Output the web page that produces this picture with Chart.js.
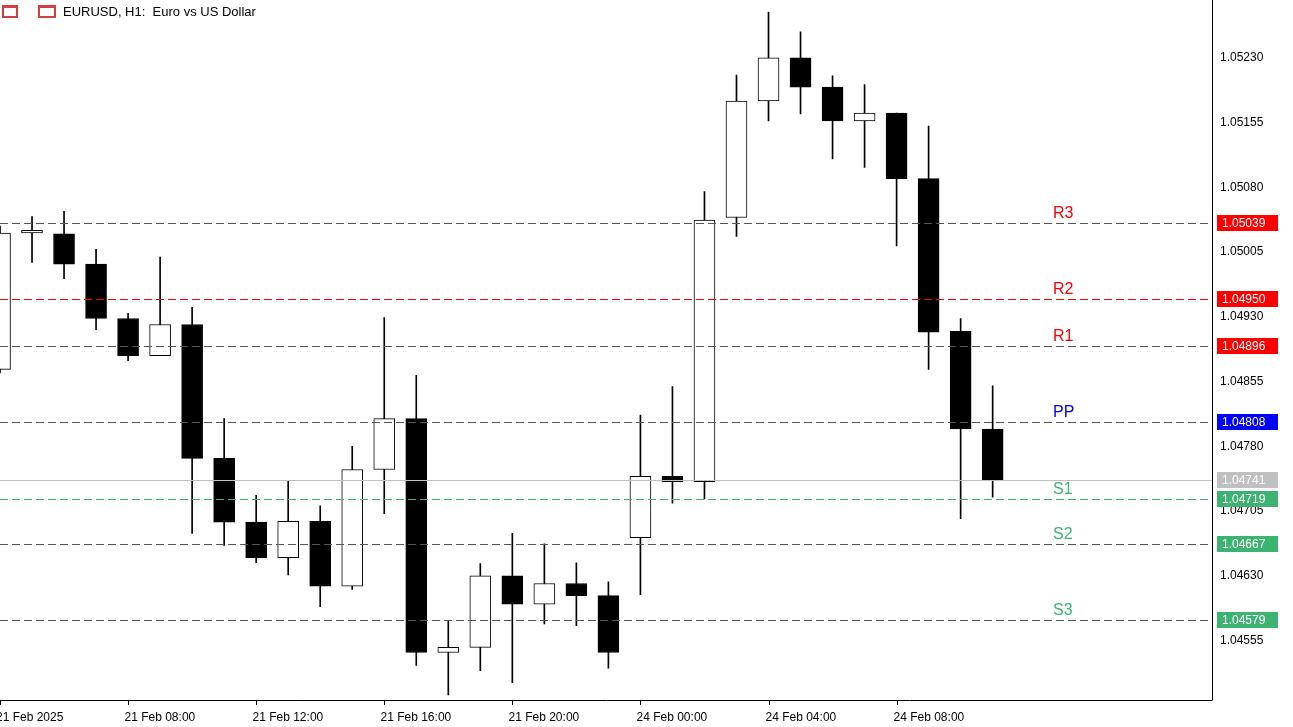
<!DOCTYPE html>
<html><head><meta charset="utf-8">
<script src="https://cdn.jsdelivr.net/npm/chart.js@4"></script>
<style>html,body{margin:0;padding:0;background:#fff}#w{width:1293px;height:727px}</style>
</head><body><div id="w"><canvas id="c"></canvas></div>
<script>
const opens  = [1.04869,1.05027,1.05026,1.04991,1.04928,1.04885,1.04921,1.04766,1.04692,1.04651,1.04693,1.04618,1.04753,1.04812,1.04541,1.04547,1.04630,1.04597,1.04621,1.04607,1.04674,1.04745,1.04739,1.05045,1.05180,1.05230,1.05196,1.05157,1.05166,1.05090,1.04913,1.04800];
const highs  = [1.05035,1.05046,1.05052,1.05008,1.04934,1.04999,1.04941,1.04812,1.04723,1.04740,1.04711,1.04780,1.04929,1.04862,1.04578,1.04644,1.04679,1.04667,1.04645,1.04623,1.04816,1.04849,1.05075,1.05210,1.05283,1.05260,1.05209,1.05199,1.05166,1.05151,1.04928,1.04850];
const lows   = [1.04865,1.04993,1.04974,1.04915,1.04879,1.04885,1.04679,1.04665,1.04645,1.04631,1.04594,1.04614,1.04702,1.04526,1.04492,1.04520,1.04506,1.04574,1.04572,1.04523,1.04608,1.04714,1.04719,1.05023,1.05157,1.05165,1.05113,1.05103,1.05012,1.04869,1.04696,1.04721];
const closes = [1.05027,1.05030,1.04991,1.04928,1.04885,1.04921,1.04766,1.04692,1.04651,1.04693,1.04618,1.04753,1.04812,1.04541,1.04547,1.04630,1.04597,1.04621,1.04607,1.04541,1.04745,1.04739,1.05042,1.05180,1.05230,1.05196,1.05157,1.05166,1.05090,1.04912,1.04800,1.04741];
const timeLabels = ["21 Feb 2025","21 Feb 08:00","21 Feb 12:00","21 Feb 16:00","21 Feb 20:00","24 Feb 00:00","24 Feb 04:00","24 Feb 08:00"];
const priceTicks = [1.04555,1.04630,1.04705,1.04780,1.04855,1.04930,1.05005,1.05080,1.05155,1.05230];
const levelNames  = ["R3","R2","R1","PP","S1","S2","S3"];
const levelValues = [1.05039,1.04950,1.04896,1.04808,1.04719,1.04667,1.04579];
const levelColors = ["#ff0000","#ff0000","#ff0000","#0000ff","#3cb371","#3cb371","#3cb371"];
const lineColors  = ["#555","#ff0000","#555","#555","#3cb371","#555","#555"];
const lastPrice = 1.04741;

const idx = opens.map((_,i)=>i);
const wick = idx.map(i=>({x:i,y:[lows[i],highs[i]]}));
const body = idx.map(i=>{let a=opens[i],b=closes[i];if(Math.abs(a-b)<0.00002){b=a+0.00002;}return {x:i,y:[a,b]};});
const bodyColors = idx.map(i=>closes[i]>=opens[i]?'#fff':'#000');

const overlay = {
  id:'overlay',
  afterDatasetsDraw(ch){
    const c=ch.ctx, y=ch.scales.y, x=ch.scales.x, ca=ch.chartArea;
    c.save();
    let yp=Math.round(y.getPixelForValue(lastPrice))+0.5;
    c.strokeStyle='#c0c0c0';c.lineWidth=1;c.setLineDash([]);
    c.beginPath();c.moveTo(0,yp);c.lineTo(ca.right,yp);c.stroke();
    levelValues.forEach((v,i)=>{
      const py=Math.round(y.getPixelForValue(v))+0.5;
      c.strokeStyle=lineColors[i];c.setLineDash([8,4]);
      c.beginPath();c.moveTo(0,py);c.lineTo(ca.right,py);c.stroke();
      c.setLineDash([]);
      c.fillStyle=levelColors[i];c.font='16px "Liberation Sans", Arial';c.textBaseline='bottom';c.textAlign='left';
      c.fillText(levelNames[i],1053,py-2);
    });
    const boxes=[...levelValues.map((v,i)=>[v,levelColors[i]]),[lastPrice,'#c0c0c0']];
    c.font='12px "Liberation Sans", Arial';c.textBaseline='middle';
    boxes.forEach(([v,col])=>{
      const py=Math.round(y.getPixelForValue(v));
      c.fillStyle=col;c.fillRect(ca.right+5,py-8,61,16);
      c.fillStyle='#fff';c.fillText(v.toFixed(5),ca.right+10,py+1);
    });
    c.strokeStyle='#000';c.lineWidth=1;
    c.beginPath();c.moveTo(ca.right+0.5,0);c.lineTo(ca.right+0.5,ca.bottom+0.5);c.lineTo(0,ca.bottom+0.5);c.stroke();
    c.fillStyle='#000';c.textBaseline='top';c.textAlign='left';
    timeLabels.forEach((t,k)=>{
      const px=Math.round(x.getPixelForValue(k*4))+0.5;
      c.beginPath();c.moveTo(px,ca.bottom);c.lineTo(px,ca.bottom+5);c.stroke();
      c.fillText(t,k===0?-4:px-4,ca.bottom+12);
    });
    c.fillStyle='#d04040';c.fillRect(2,5,16,13);c.fillRect(38,5,18,13);
    c.fillStyle='#fff';c.fillRect(4,8,12,8);c.fillRect(40,8,14,8);
    c.fillStyle='#000';c.font='13px "Liberation Sans", Arial';c.textBaseline='middle';
    c.fillText('EURUSD, H1:  Euro vs US Dollar',63,12);
    c.restore();
  }
};

new Chart(document.getElementById('c'),{
  type:'bar',
  data:{datasets:[
    {data:wick,backgroundColor:'#000',barThickness:1,grouped:false,order:2},
    {data:body,backgroundColor:bodyColors,borderColor:'#000',borderWidth:1,borderSkipped:false,barThickness:21,grouped:false,order:1}
  ]},
  options:{
    responsive:true,maintainAspectRatio:false,animation:false,
    layout:{padding:{left:0,right:0,top:0,bottom:27}},
    plugins:{legend:{display:false},tooltip:{enabled:false}},
    scales:{
      x:{type:'linear',min:0,max:37.85,display:false,offset:false},
      y:{position:'right',min:1.04486,max:1.05284,
        afterBuildTicks(s){s.ticks=priceTicks.map(v=>({value:v}));},
        afterFit(s){s.width=81;},
        grid:{display:false,drawTicks:true,tickLength:4,tickColor:'#000'},
        border:{display:false},
        ticks:{color:'#000',font:{size:12,family:'"Liberation Sans", Arial'},padding:4,callback:v=>v.toFixed(5)}}
    }
  },
  plugins:[overlay]
});
</script></body></html>
